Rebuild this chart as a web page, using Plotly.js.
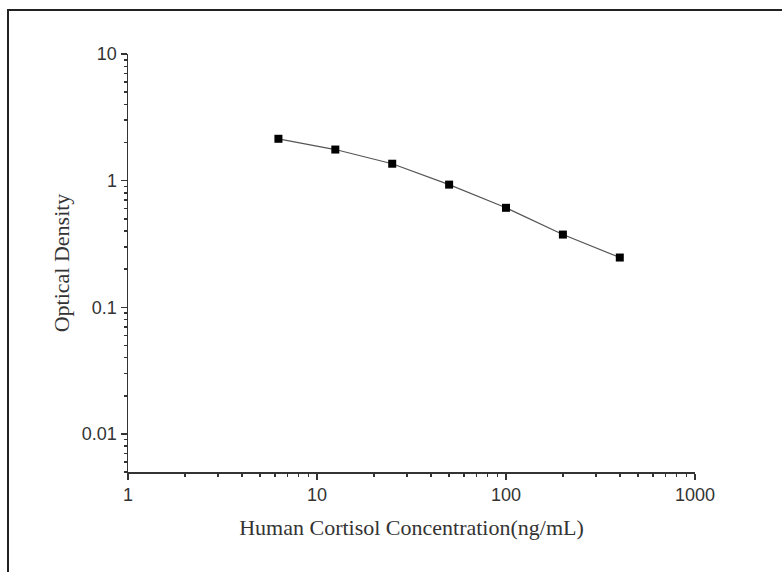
<!DOCTYPE html>
<html>
<head>
<meta charset="utf-8">
<script src="https://cdn.plot.ly/plotly-3.0.1.min.js"></script>
<style>
html,body{margin:0;padding:0;background:#fff;}
#chart{width:782px;height:572px;}
</style>
</head>
<body>
<div id="chart"></div>
<script>
// Data
const concentration = [6.25, 12.5, 25, 50, 100, 200, 400];
const opticalDensity = [2.14, 1.76, 1.36, 0.93, 0.61, 0.375, 0.247];

const xTickVals = [1, 10, 100, 1000];
const xTickText = ["1", "10", "100", "1000"];
const yTickVals = [0.01, 0.1, 1, 10];
const yTickText = ["0.01", "0.1", "1", "10"];

const xTitle = "Human Cortisol Concentration(ng/mL)";
const yTitle = "Optical Density";

const W = 782, H = 572;
const m = {l: 128, r: 87, t: 54, b: 100};
const pw = W - m.l - m.r, ph = H - m.t - m.b;

const trace = {
  x: concentration,
  y: opticalDensity,
  type: 'scatter',
  mode: 'lines+markers',
  line: {color: '#555555', width: 1.2},
  marker: {symbol: 'square', size: 8, color: '#000000'},
  showlegend: false,
  cliponaxis: false
};

const tickFont = {family: 'Liberation Sans, Arial, sans-serif', size: 18, color: '#333333'};
const titleFont = {family: 'Liberation Serif, Times New Roman, serif', size: 22, color: '#333333'};

const layout = {
  width: W, height: H,
  margin: m,
  paper_bgcolor: '#ffffff',
  plot_bgcolor: '#ffffff',
  showlegend: false,
  xaxis: {
    type: 'log',
    range: [0, 3],
    tickvals: xTickVals,
    ticktext: xTickText,
    ticks: 'outside', ticklen: 6, tickwidth: 1.5, tickcolor: '#333',
    showline: true, linecolor: '#333', linewidth: 1.5,
    showgrid: false, zeroline: false,
    tickfont: tickFont,
    minor: {ticks: 'outside', ticklen: 3, tickwidth: 1.5, tickcolor: '#333', dtick: 'D1', showgrid: false},
    title: {text: xTitle, font: titleFont, standoff: 15},
    fixedrange: true
  },
  yaxis: {
    type: 'log',
    range: [Math.log10(0.005), 1],
    tickvals: yTickVals,
    ticktext: yTickText,
    ticks: 'outside', ticklen: 6, tickwidth: 1.5, tickcolor: '#333',
    showline: true, linecolor: '#333', linewidth: 1.5,
    showgrid: false, zeroline: false,
    tickfont: tickFont,
    minor: {ticks: 'outside', ticklen: 3, tickwidth: 1.5, tickcolor: '#333', dtick: 'D1', showgrid: false},
    title: {text: yTitle, font: titleFont, standoff: 6},
    fixedrange: true
  },
  shapes: [{
    type: 'rect', xref: 'paper', yref: 'paper',
    x0: (8 - m.l) / pw, x1: 2,
    y0: -2, y1: (H - m.b - 10) / ph,
    line: {color: '#222222', width: 2},
    fillcolor: 'rgba(0,0,0,0)'
  }]
};

Plotly.newPlot('chart', [trace], layout, {displayModeBar: false, staticPlot: true});
</script>
</body>
</html>
